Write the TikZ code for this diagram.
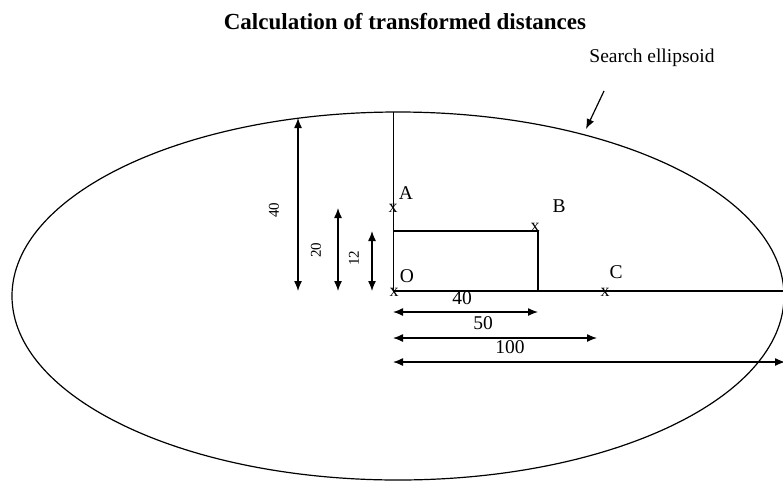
\documentclass[tikz,border=0pt]{standalone}
\usepackage{fontspec}
\setmainfont{Liberation Serif}
\usetikzlibrary{arrows.meta, positioning}

\begin{document}
\begin{tikzpicture}[x=1pt, y=-1pt,
    ptlabel/.style={font=\fontsize{19.5}{19.5}\selectfont, inner sep=0pt},
    vlabel/.style={font=\fontsize{15}{15}\selectfont, inner sep=0pt, rotate=90},
    cross/.style={font=\fontsize{18}{18}\selectfont, inner sep=0pt},
    dim/.style={line width=1.3pt, {Latex[length=10pt,width=8pt]}-{Latex[length=10pt,width=8pt]}},
    pointer/.style={line width=1.2pt, -{Latex[length=10pt,width=8pt]}}]

    \useasboundingbox (0,0) rectangle (783,482);

    % Title
    \node [font=\bfseries\fontsize{23}{23}\selectfont] (title) at (405,22) {Calculation of transformed distances};

    % Ellipse
    \draw [line width=1.2pt] (398,296) ellipse [x radius=386, y radius=184];
    \node [ptlabel] (search) at (652,58) {Search ellipsoid};
    \coordinate (ptr) at (604,91);
    \coordinate (hit) at (586,129);
    \draw [pointer] (ptr) -- (hit);

    % Points
    \coordinate (O) at (393,291);
    \coordinate (A) at (393,209);
    \coordinate (B) at (538,231);
    \coordinate (C) at (605,291);
    \coordinate (yaxis) at (393,112);
    \coordinate (xaxis) at (790,291);
    \coordinate (Bleft) at (393,231);
    \coordinate (Bfoot) at (538,291);

    % Axes and box
    \draw [line width=0.8pt] (yaxis) -- (O);
    \draw [line width=1.4pt] (O) -- (xaxis);
    \draw [line width=1.2pt] (Bleft) -- (B) -- (Bfoot);

    % Marks
    \node [cross] (xA) at (393,208) {x};
    \node [cross] (xB) at (535,227) {x};
    \node [cross] (xO) at (394,292) {x};
    \node [cross] (xC) at (605,292) {x};
    \node [ptlabel] (lA) at (406,193) {A};
    \node [ptlabel] (lB) at (559,206) {B};
    \node [ptlabel] (lO) at (407,276) {O};
    \node [ptlabel] (lC) at (616,272) {C};

    % Vertical distances
    \coordinate (v40a) at (298,291);
    \coordinate (v40b) at (298,118);
    \coordinate (v20a) at (338,291);
    \coordinate (v20b) at (338,208);
    \coordinate (v12a) at (372,291);
    \coordinate (v12b) at (372,231);
    \draw [dim] (v40a) -- (v40b);
    \draw [dim] (v20a) -- (v20b);
    \draw [dim] (v12a) -- (v12b);
    \node [vlabel] (t40) at (274,210) {40};
    \node [vlabel] (t20) at (316,250) {20};
    \node [vlabel] (t12) at (354,258) {12};

    % Horizontal distances
    \coordinate (h40a) at (393,312);
    \coordinate (h40b) at (538,312);
    \coordinate (h50a) at (393,338);
    \coordinate (h50b) at (597,338);
    \coordinate (h100a) at (393,362);
    \coordinate (h100b) at (785,362);
    \draw [dim] (h40a) -- (h40b);
    \draw [dim] (h50a) -- (h50b);
    \draw [dim] (h100a) -- (h100b);
    \node [ptlabel] (s40) at (462,298) {40};
    \node [ptlabel] (s50) at (483,323) {50};
    \node [ptlabel] (s100) at (510,347) {100};

\end{tikzpicture}
\end{document}
